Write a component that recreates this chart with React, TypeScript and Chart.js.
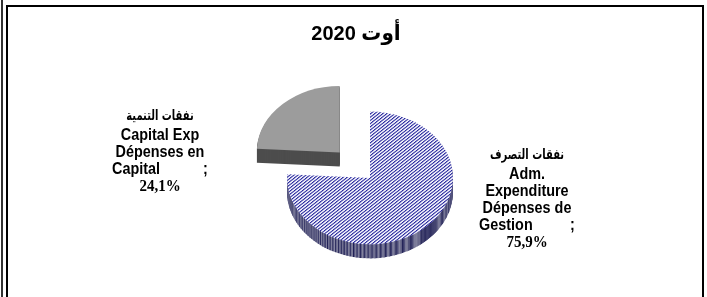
import React, { useEffect, useRef } from "react";
import { Chart, registerables } from "chart.js";

Chart.register(...registerables);

const titleText = "أوت 2020";
const categoriesArabic = ["نفقات التصرف", "نفقات التنمية"];
const categoriesLatin = [
  ["Adm.", "Expenditure", "Dépenses de", "Gestion"],
  ["Capital Exp", "Dépenses en", "Capital"],
];
const shares = [75.9, 24.1];

const TILT = 0.8;
const DEPTH = 14;

function makePattern(bg: string, fg: string, mid: string) {
  const c = document.createElement("canvas");
  c.width = 4;
  c.height = 4;
  const g = c.getContext("2d")!;
  g.fillStyle = bg;
  g.fillRect(0, 0, 4, 4);
  for (let i = 0; i < 4; i++) {
    g.fillStyle = fg;
    g.fillRect(i, 3 - i, 1, 1);
    g.fillStyle = mid;
    g.fillRect((i + 1) % 4, 3 - i, 1, 1);
  }
  return g.createPattern(c, "repeat") as CanvasPattern;
}

export default function App() {
  const ref = useRef<HTMLCanvasElement>(null);

  useEffect(() => {
    const canvas = ref.current!;
    const blueTop = makePattern("#f4f4fc", "#1c1c96", "#7c7cc8");
    const blueSide = makePattern("#8a8aa4", "#1a1a50", "#404070");
    const topColors: any[] = [blueTop, "#9c9c9c"];
    const sideColors: any[] = [blueSide, "#4d4d4d"];

    const pie3d = {
      id: "pie3d",
      beforeDatasetsDraw(chart: any) {
        const ctx = chart.ctx as CanvasRenderingContext2D;
        const arcs = chart.getDatasetMeta(0).data as any[];
        if (!arcs.length) return false;
        const cx = arcs[0].x;
        const cy = arcs[0].y;
        const drawOne = (arc: any, dy: number, color: any) => {
          ctx.save();
          ctx.translate(cx, cy + dy);
          ctx.scale(1, TILT);
          ctx.translate(-cx, -cy);
          const saved = arc.options;
          arc.options = Object.assign({}, saved, { backgroundColor: color, borderWidth: 0 });
          arc.draw(ctx);
          arc.options = saved;
          ctx.restore();
        };
        for (let d = DEPTH; d >= 1; d--) {
          arcs.forEach((a, i) => drawOne(a, d, sideColors[i]));
        }
        arcs.forEach((a, i) => drawOne(a, 0, topColors[i]));
        return false;
      },
    };

    const textPlugin = {
      id: "texts",
      afterDraw(chart: any) {
        const ctx = chart.ctx as CanvasRenderingContext2D;
        const arcs = chart.getDatasetMeta(0).data as any[];
        const cx = arcs[0].x;
        const cy = arcs[0].y;
        const put = (t: string, x: number, y: number, align: CanvasTextAlign, sx: number, sy: number) => {
          ctx.save();
          ctx.translate(x, y);
          ctx.scale(sx, sy);
          ctx.textAlign = align;
          ctx.fillText(t, 0, 0);
          ctx.restore();
        };
        ctx.save();
        ctx.fillStyle = "#000";
        ctx.textBaseline = "middle";
        // title
        ctx.font = 'bold 20px "Liberation Sans", "DejaVu Sans", sans-serif';
        put(titleText, cx - 14, 34, "center", 1, 1.05);

        const blocks = [
          { dx: 157, dy: -23 },
          { dx: -210, dy: -62 },
        ];
        const latinFont = 'bold 15px "Liberation Sans", Arial, sans-serif';
        const SX = 0.96;
        const SY = 1.15;
        shares.forEach((v, i) => {
          const bx = cx + blocks[i].dx;
          let y = cy + blocks[i].dy;
          ctx.font = 'bold 12px "DejaVu Sans", sans-serif';
          put(categoriesArabic[i], bx, y, "center", 0.83, 1.2);
          y += 19.5;
          ctx.font = latinFont;
          const lines = categoriesLatin[i];
          let maxW = 0;
          lines.forEach((l) => (maxW = Math.max(maxW, ctx.measureText(l).width * SX)));
          const w = maxW + 7;
          lines.forEach((l, j) => {
            if (j === lines.length - 1) {
              put(l, bx - w / 2, y, "left", SX, SY);
              put(";", bx + w / 2, y, "right", SX, SY);
            } else {
              put(l, bx, y, "center", SX, SY);
            }
            y += 17;
          });
          ctx.font = 'bold 15px "Liberation Serif", "Times New Roman", serif';
          put(v.toFixed(1).replace(".", ",") + "%", bx, y, "center", 1, 1.1);
        });
        ctx.restore();
      },
    };

    const chart = new Chart(canvas, {
      type: "pie",
      data: {
        labels: categoriesLatin.map((l) => l.join(" ")),
        datasets: [
          {
            data: shares,
            backgroundColor: topColors,
            borderWidth: 0,
            offset: [0, 176],
          },
        ],
      },
      options: {
        responsive: false,
        animation: false,
        radius: 83,
        rotation: 0,
        layout: { padding: { left: 33, right: 0, top: 59, bottom: 0 } },
        plugins: {
          legend: { display: false },
          tooltip: { enabled: false },
          title: { display: false },
        },
        events: [],
      } as any,
      plugins: [pie3d, textPlugin],
    });
    return () => chart.destroy();
  }, []);

  return (
    <div
      style={{
        position: "fixed",
        left: 0,
        top: 0,
        width: 707,
        height: 297,
        overflow: "hidden",
        background: "#fff",
      }}
    >
      <canvas ref={ref} width={707} height={297} style={{ position: "absolute", left: 0, top: 0, display: "block" }} />
      <div style={{ position: "absolute", left: 1, top: 0, width: 2, height: 297, background: "#333" }} />
      <div
        style={{
          position: "absolute",
          left: 6,
          top: 5,
          width: 694,
          height: 320,
          border: "2px solid #000",
          boxSizing: "content-box",
        }}
      />
    </div>
  );
}
